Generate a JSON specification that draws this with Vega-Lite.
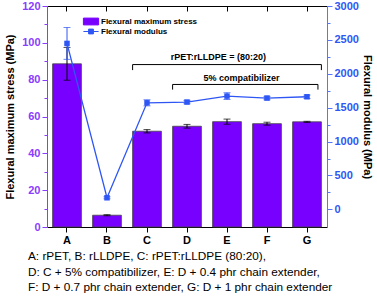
{
  "$schema": "https://vega.github.io/schema/vega-lite/v6.json",
  "width": 280,
  "height": 221,
  "autosize": "none",
  "padding": {"left": 47, "top": 6, "right": 50, "bottom": 69},
  "config": {
    "font": "Liberation Sans",
    "view": {"stroke": null},
    "axis": {"labelFont": "Liberation Sans", "labelFontWeight": "bold", "labelFontSize": 11, "titleFont": "Liberation Sans", "titleFontSize": 11, "titleFontWeight": "bold", "titleColor": "black", "grid": false, "labelOverlap": false}
  },
  "title": {
    "text": ["A: rPET, B: rLLDPE, C: rPET:rLLDPE (80:20),", "D: C + 5% compatibilizer, E: D + 0.4 phr chain extender,", "F: D + 0.7 phr chain extender, G: D + 1 phr chain extender"],
    "orient": "bottom", "anchor": "start", "frame": "group", "dx": -19, "offset": 6,
    "fontSize": 11.8, "fontWeight": "normal", "lineHeight": 15.5, "color": "black", "font": "Liberation Sans"
  },
  "datasets": {
    "main": [
      {"s": "A", "stress": 88.6, "se": 8.9, "mod": 2448, "me": 235},
      {"s": "B", "stress": 6.4, "se": 0.3, "mod": 171, "me": 15},
      {"s": "C", "stress": 52.0, "se": 0.9, "mod": 1572, "me": 45},
      {"s": "D", "stress": 54.7, "se": 1.0, "mod": 1583, "me": 25},
      {"s": "E", "stress": 57.2, "se": 1.4, "mod": 1671, "me": 50},
      {"s": "F", "stress": 56.1, "se": 0.8, "mod": 1642, "me": 25},
      {"s": "G", "stress": 57.1, "se": 0.3, "mod": 1661, "me": 25}
    ]
  },
  "layer": [
    {
      "layer": [
        {
          "data": {"name": "main"},
          "mark": {"type": "bar", "stroke": "#444", "strokeWidth": 0.8},
          "encoding": {
            "x": {"field": "s", "type": "nominal", "sort": null, "scale": {"paddingInner": 0.28, "paddingOuter": 0.14},
              "axis": {"orient": "bottom", "title": null, "labelAngle": 0, "tickSize": 5, "labelPadding": 2, "domainColor": "black", "tickColor": "black", "labelColor": "black"}},
            "y": {"field": "stress", "type": "quantitative", "title": "Flexural maximum stress (MPa)", "scale": {"domain": [0, 120], "nice": false},
              "axis": {"title": "Flexural maximum stress (MPa)", "values": [0, 10, 20, 30, 40, 50, 60, 70, 80, 90, 100, 110, 120], "tickCount": 20,
                "labelExpr": "datum.value % 20 == 0 ? format(datum.value, 'd') : ''", "labelOverlap": false,
                "tickSize": {"condition": {"test": "datum.value % 20 === 0", "value": 5}, "value": 3},
                "labelColor": "#8a3cff", "domainColor": "#8a3cff", "tickColor": "#8a3cff", "titlePadding": 6}},
            "color": {"datum": "Flexural maximum stress", "type": "nominal",
              "scale": {"domain": ["Flexural maximum stress", "Flexural modulus"], "range": ["#7800ff", "#2e56f5"]},
              "legend": {"orient": "none", "legendX": 39.5, "legendY": 11, "title": null, "padding": 0, "rowPadding": 0,
                "labelFontSize": 8, "labelFontWeight": "bold", "labelFont": "Liberation Sans", "labelOffset": 5.5, "symbolSize": 64,
                "encode": {"symbols": {"update": {
                  "shape": {"signal": "datum.value === 'Flexural modulus' ? 'M-1.9,0H1.9M-0.6,-0.6H0.6V0.6H-0.6Z' : 'M-1.9,-0.85H1.9V0.85H-1.9Z'"},
                  "fill": {"signal": "datum.value === 'Flexural modulus' ? '#2e56f5' : '#7800ff'"},
                  "stroke": {"signal": "datum.value === 'Flexural modulus' ? '#2e56f5' : '#333'"},
                  "strokeWidth": {"value": 1}, "fillOpacity": {"value": 1}}}}}}
          }
        },
        {
          "data": {"name": "main"},
          "mark": {"type": "errorbar", "color": "black", "thickness": 1, "ticks": {"size": 7, "thickness": 1}},
          "encoding": {
            "x": {"field": "s", "type": "nominal", "sort": null},
            "y": {"field": "stress", "type": "quantitative", "title": "Flexural maximum stress (MPa)"},
            "yError": {"field": "se"}
          }
        },
        {
          "data": {"values": [{"a": "C", "b": "G", "y": 88.2}]},
          "mark": {"type": "rule", "color": "black", "strokeWidth": 1},
          "encoding": {"x": {"field": "a", "type": "nominal", "bandPosition": 0}, "x2": {"field": "b", "bandPosition": 1}, "y": {"field": "y", "type": "quantitative", "title": "Flexural maximum stress (MPa)"}}
        },
        {
          "data": {"values": [{"a": "D", "b": "G", "y": 77.4}]},
          "mark": {"type": "rule", "color": "black", "strokeWidth": 1},
          "encoding": {"x": {"field": "a", "type": "nominal", "bandPosition": 0}, "x2": {"field": "b", "bandPosition": 0.88}, "y": {"field": "y", "type": "quantitative", "title": "Flexural maximum stress (MPa)"}}
        },
        {
          "data": {"values": [{"a": "C", "y": 88.2, "y2": 85.2}, {"a": "D", "y": 77.4, "y2": 74.6}]},
          "mark": {"type": "rule", "color": "black", "strokeWidth": 1},
          "encoding": {"x": {"field": "a", "type": "nominal", "bandPosition": 0}, "y": {"field": "y", "type": "quantitative", "title": "Flexural maximum stress (MPa)"}, "y2": {"field": "y2"}}
        },
        {
          "data": {"values": [{"a": "G", "y": 88.2, "y2": 85.2}]},
          "mark": {"type": "rule", "color": "black", "strokeWidth": 1},
          "encoding": {"x": {"field": "a", "type": "nominal", "bandPosition": 1}, "y": {"field": "y", "type": "quantitative", "title": "Flexural maximum stress (MPa)"}, "y2": {"field": "y2"}}
        },
        {
          "data": {"values": [{"a": "G", "y": 77.4, "y2": 74.6}]},
          "mark": {"type": "rule", "color": "black", "strokeWidth": 1},
          "encoding": {"x": {"field": "a", "type": "nominal", "bandPosition": 0.88}, "y": {"field": "y", "type": "quantitative", "title": "Flexural maximum stress (MPa)"}, "y2": {"field": "y2"}}
        },
        {
          "data": {"values": [{"a": "E", "y": 92.4, "t": "rPET:rLLDPE = (80:20)"}]},
          "mark": {"type": "text", "fontWeight": "bold", "fontSize": 9, "baseline": "middle", "align": "center", "color": "black"},
          "encoding": {"x": {"field": "a", "type": "nominal", "bandPosition": 0.2}, "y": {"field": "y", "type": "quantitative", "title": "Flexural maximum stress (MPa)"}, "text": {"field": "t"}}
        },
        {
          "data": {"values": [{"a": "E", "y": 81.1, "t": "5% compatibilizer"}]},
          "mark": {"type": "text", "fontWeight": "bold", "fontSize": 9, "baseline": "middle", "align": "center", "color": "black"},
          "encoding": {"x": {"field": "a", "type": "nominal", "bandPosition": 1}, "y": {"field": "y", "type": "quantitative", "title": "Flexural maximum stress (MPa)"}, "text": {"field": "t"}}
        }
      ]
    },
    {
      "layer": [
        {
          "data": {"name": "main"},
          "mark": {"type": "errorbar", "color": "#2e56f5", "thickness": 1, "ticks": {"size": 7, "thickness": 1}},
          "encoding": {
            "x": {"field": "s", "type": "nominal", "sort": null},
            "y": {"field": "mod", "type": "quantitative", "title": "Flexural modulus (MPa)"},
            "yError": {"field": "me"}
          }
        },
        {
          "data": {"name": "main"},
          "mark": {"type": "line", "strokeWidth": 1.3, "point": {"shape": "square", "size": 30, "filled": true}},
          "encoding": {
            "x": {"field": "s", "type": "nominal", "sort": null,
              "axis": {"orient": "top", "labels": false, "title": null, "tickSize": -5, "domainColor": "black", "tickColor": "black"}},
            "y": {"field": "mod", "type": "quantitative", "title": "Flexural modulus (MPa)", "scale": {"domain": [-260, 3000], "nice": false},
              "axis": {"orient": "right", "title": "Flexural modulus (MPa)",
                "values": [0, 250, 500, 750, 1000, 1250, 1500, 1750, 2000, 2250, 2500, 2750, 3000], "tickCount": 20,
                "labelExpr": "datum.value % 500 == 0 ? format(datum.value, 'd') : ''", "labelOverlap": false,
                "tickSize": {"condition": {"test": "datum.value % 500 === 0", "value": 5}, "value": 3},
                "labelColor": "#2e56f5", "domainColor": "#5577ff", "tickColor": "#5577ff", "titlePadding": 3}},
            "color": {"datum": "Flexural modulus", "type": "nominal",
              "legend": {"orient": "none", "legendX": 39.5, "legendY": 11, "title": null, "padding": 0, "rowPadding": 0,
                "labelFontSize": 8, "labelFontWeight": "bold", "labelFont": "Liberation Sans", "labelOffset": 5.5, "symbolSize": 64,
                "encode": {"symbols": {"update": {
                  "shape": {"signal": "datum.value === 'Flexural modulus' ? 'M-1.9,0H1.9M-0.6,-0.6H0.6V0.6H-0.6Z' : 'M-1.9,-0.85H1.9V0.85H-1.9Z'"},
                  "fill": {"signal": "datum.value === 'Flexural modulus' ? '#2e56f5' : '#7800ff'"},
                  "stroke": {"signal": "datum.value === 'Flexural modulus' ? '#2e56f5' : '#333'"},
                  "strokeWidth": {"value": 1}, "fillOpacity": {"value": 1}}}}}}
          }
        }
      ]
    }
  ],
  "resolve": {"scale": {"y": "independent"}, "axis": {"x": "independent"}}
}
